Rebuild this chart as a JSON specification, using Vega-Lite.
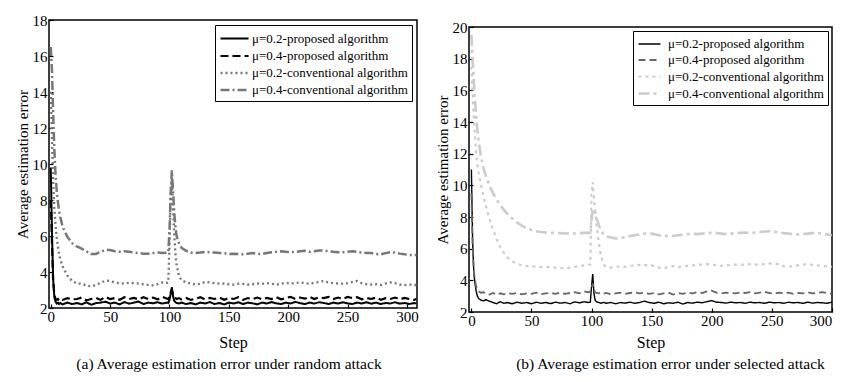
{
  "$schema": "https://vega.github.io/schema/vega-lite/v6.json",
  "background": "white",
  "padding": {"left": 14, "top": 12, "right": 0, "bottom": 0},
  "spacing": 15,
  "resolve": {"scale": {"color": "independent", "strokeDash": "independent", "strokeWidth": "independent"}, "legend": {"color": "independent", "strokeDash": "independent", "strokeWidth": "independent"}},
  "config": {
    "font": "Liberation Serif",
    "view": {"stroke": "black", "strokeWidth": 1.5},
    "axis": {"domain": false, "grid": false, "ticks": true, "tickSize": -4, "tickColor": "black", "tickWidth": 1.2, "labelFontSize": 15, "labelColor": "black", "labelFont": "Liberation Serif", "titleFont": "Liberation Serif", "titleFontWeight": "normal", "titleColor": "black"},
    "axisX": {"labelPadding": 5, "titleFontSize": 16, "titlePadding": 10},
    "axisY": {"labelPadding": 6, "titleFontSize": 15, "titlePadding": 2},
    "legend": {"labelLimit": 400},
    "title": {"font": "Liberation Serif", "fontSize": 15.5, "fontWeight": "normal", "color": "black", "orient": "bottom", "offset": 7}
  },
  "datasets": {
    "a": [
      {"x":0,"P2":9.8,"P4":8.0,"C2":14.0,"C4":16.5},
      {"x":1,"P2":6.2,"P4":5.6,"C2":11.5,"C4":15.2},
      {"x":2,"P2":3.6,"P4":3.5,"C2":9.0,"C4":12.8},
      {"x":3,"P2":2.6,"P4":2.75,"C2":7.6,"C4":10.8},
      {"x":4,"P2":2.35,"P4":2.5,"C2":6.6,"C4":9.4},
      {"x":5,"P2":2.25,"P4":2.45,"C2":5.9,"C4":8.5},
      {"x":6,"P2":2.3,"P4":2.5,"C2":5.4,"C4":7.9},
      {"x":7,"P2":2.22,"P4":2.42,"C2":5.0,"C4":7.4},
      {"x":8,"P2":2.28,"P4":2.5,"C2":4.7,"C4":7.05},
      {"x":10,"P2":2.2,"P4":2.45,"C2":4.3,"C4":6.5},
      {"x":14,"P2":2.3,"P4":2.55,"C2":3.8,"C4":5.95},
      {"x":18,"P2":2.22,"P4":2.48,"C2":3.5,"C4":5.6},
      {"x":22,"P2":2.28,"P4":2.5,"C2":3.35,"C4":5.42},
      {"x":26,"P2":2.2,"P4":2.58,"C2":3.35,"C4":5.3},
      {"x":30,"P2":2.32,"P4":2.42,"C2":3.25,"C4":5.15},
      {"x":34,"P2":2.18,"P4":2.5,"C2":3.2,"C4":5.0},
      {"x":38,"P2":2.27,"P4":2.56,"C2":3.28,"C4":5.0},
      {"x":42,"P2":2.3,"P4":2.45,"C2":3.4,"C4":5.12},
      {"x":46,"P2":2.35,"P4":2.62,"C2":3.52,"C4":5.22},
      {"x":50,"P2":2.25,"P4":2.5,"C2":3.5,"C4":5.22},
      {"x":54,"P2":2.3,"P4":2.55,"C2":3.42,"C4":5.15},
      {"x":58,"P2":2.2,"P4":2.46,"C2":3.38,"C4":5.12},
      {"x":62,"P2":2.33,"P4":2.6,"C2":3.36,"C4":5.15},
      {"x":66,"P2":2.24,"P4":2.5,"C2":3.4,"C4":5.12},
      {"x":70,"P2":2.3,"P4":2.56,"C2":3.38,"C4":5.08},
      {"x":74,"P2":2.36,"P4":2.48,"C2":3.36,"C4":5.05},
      {"x":78,"P2":2.22,"P4":2.6,"C2":3.32,"C4":5.02},
      {"x":82,"P2":2.3,"P4":2.5,"C2":3.28,"C4":5.02},
      {"x":86,"P2":2.26,"P4":2.58,"C2":3.26,"C4":5.05},
      {"x":90,"P2":2.32,"P4":2.48,"C2":3.32,"C4":5.08},
      {"x":94,"P2":2.25,"P4":2.62,"C2":3.42,"C4":5.05},
      {"x":98,"P2":2.3,"P4":2.52,"C2":3.4,"C4":5.08},
      {"x":99,"P2":2.28,"P4":2.5,"C2":3.42,"C4":5.1},
      {"x":100,"P2":2.45,"P4":2.6,"C2":5.5,"C4":6.3},
      {"x":101,"P2":2.8,"P4":2.85,"C2":8.2,"C4":8.4},
      {"x":102,"P2":3.15,"P4":3.0,"C2":9.3,"C4":9.65},
      {"x":103,"P2":2.65,"P4":2.75,"C2":7.6,"C4":8.5},
      {"x":104,"P2":2.4,"P4":2.6,"C2":6.1,"C4":7.3},
      {"x":105,"P2":2.32,"P4":2.55,"C2":5.0,"C4":6.5},
      {"x":106,"P2":2.28,"P4":2.5,"C2":4.4,"C4":6.0},
      {"x":108,"P2":2.25,"P4":2.55,"C2":3.8,"C4":5.6},
      {"x":110,"P2":2.3,"P4":2.48,"C2":3.55,"C4":5.35},
      {"x":114,"P2":2.22,"P4":2.56,"C2":3.42,"C4":5.18},
      {"x":118,"P2":2.28,"P4":2.45,"C2":3.36,"C4":5.08},
      {"x":122,"P2":2.2,"P4":2.52,"C2":3.3,"C4":5.05},
      {"x":126,"P2":2.3,"P4":2.6,"C2":3.35,"C4":5.08},
      {"x":130,"P2":2.25,"P4":2.48,"C2":3.45,"C4":5.12},
      {"x":134,"P2":2.33,"P4":2.56,"C2":3.42,"C4":5.1},
      {"x":138,"P2":2.22,"P4":2.5,"C2":3.38,"C4":5.08},
      {"x":142,"P2":2.28,"P4":2.58,"C2":3.35,"C4":5.05},
      {"x":146,"P2":2.2,"P4":2.46,"C2":3.36,"C4":5.05},
      {"x":150,"P2":2.3,"P4":2.55,"C2":3.32,"C4":5.0},
      {"x":154,"P2":2.25,"P4":2.5,"C2":3.3,"C4":5.02},
      {"x":158,"P2":2.32,"P4":2.6,"C2":3.35,"C4":5.0},
      {"x":162,"P2":2.22,"P4":2.45,"C2":3.34,"C4":4.98},
      {"x":166,"P2":2.3,"P4":2.55,"C2":3.3,"C4":5.02},
      {"x":170,"P2":2.26,"P4":2.5,"C2":3.32,"C4":5.05},
      {"x":174,"P2":2.2,"P4":2.58,"C2":3.36,"C4":5.0},
      {"x":178,"P2":2.3,"P4":2.48,"C2":3.34,"C4":5.0},
      {"x":182,"P2":2.25,"P4":2.56,"C2":3.38,"C4":5.05},
      {"x":186,"P2":2.33,"P4":2.5,"C2":3.35,"C4":5.1},
      {"x":190,"P2":2.26,"P4":2.6,"C2":3.3,"C4":5.12},
      {"x":194,"P2":2.22,"P4":2.48,"C2":3.35,"C4":5.15},
      {"x":198,"P2":2.3,"P4":2.55,"C2":3.4,"C4":5.12},
      {"x":202,"P2":2.25,"P4":2.62,"C2":3.36,"C4":5.1},
      {"x":206,"P2":2.34,"P4":2.5,"C2":3.38,"C4":5.12},
      {"x":210,"P2":2.27,"P4":2.58,"C2":3.42,"C4":5.15},
      {"x":214,"P2":2.22,"P4":2.52,"C2":3.38,"C4":5.18},
      {"x":218,"P2":2.3,"P4":2.62,"C2":3.35,"C4":5.12},
      {"x":222,"P2":2.25,"P4":2.5,"C2":3.4,"C4":5.15},
      {"x":226,"P2":2.32,"P4":2.6,"C2":3.45,"C4":5.2},
      {"x":230,"P2":2.28,"P4":2.55,"C2":3.5,"C4":5.2},
      {"x":234,"P2":2.22,"P4":2.62,"C2":3.42,"C4":5.15},
      {"x":238,"P2":2.3,"P4":2.5,"C2":3.38,"C4":5.12},
      {"x":242,"P2":2.25,"P4":2.58,"C2":3.36,"C4":5.1},
      {"x":246,"P2":2.32,"P4":2.5,"C2":3.35,"C4":5.1},
      {"x":250,"P2":2.26,"P4":2.62,"C2":3.38,"C4":5.12},
      {"x":254,"P2":2.22,"P4":2.55,"C2":3.45,"C4":5.15},
      {"x":258,"P2":2.3,"P4":2.6,"C2":3.5,"C4":5.12},
      {"x":262,"P2":2.25,"P4":2.48,"C2":3.38,"C4":5.08},
      {"x":266,"P2":2.32,"P4":2.56,"C2":3.32,"C4":5.05},
      {"x":270,"P2":2.24,"P4":2.5,"C2":3.3,"C4":5.05},
      {"x":274,"P2":2.3,"P4":2.58,"C2":3.32,"C4":5.0},
      {"x":278,"P2":2.22,"P4":2.46,"C2":3.28,"C4":4.98},
      {"x":282,"P2":2.28,"P4":2.55,"C2":3.36,"C4":5.05},
      {"x":286,"P2":2.25,"P4":2.5,"C2":3.42,"C4":5.1},
      {"x":290,"P2":2.32,"P4":2.58,"C2":3.38,"C4":5.08},
      {"x":294,"P2":2.24,"P4":2.48,"C2":3.3,"C4":5.02},
      {"x":298,"P2":2.28,"P4":2.56,"C2":3.28,"C4":4.98},
      {"x":302,"P2":2.22,"P4":2.5,"C2":3.3,"C4":4.95},
      {"x":306,"P2":2.28,"P4":2.45,"C2":3.28,"C4":4.95},
      {"x":308,"P2":2.25,"P4":2.5,"C2":3.28,"C4":4.95}
    ],
    "b": [
      {"x":0,"P2":11.0,"P4":9.5,"C2":17.5,"C4":19.5},
      {"x":1,"P2":6.5,"P4":6.2,"C2":15.8,"C4":18.0},
      {"x":2,"P2":4.5,"P4":4.6,"C2":14.2,"C4":16.6},
      {"x":3,"P2":3.8,"P4":4.0,"C2":13.0,"C4":15.4},
      {"x":4,"P2":3.3,"P4":3.6,"C2":12.0,"C4":14.3},
      {"x":5,"P2":3.0,"P4":3.4,"C2":11.3,"C4":13.5},
      {"x":6,"P2":2.85,"P4":3.3,"C2":10.8,"C4":12.8},
      {"x":8,"P2":2.75,"P4":3.22,"C2":10.0,"C4":11.8},
      {"x":10,"P2":2.7,"P4":3.25,"C2":9.3,"C4":11.1},
      {"x":12,"P2":2.78,"P4":3.15,"C2":8.7,"C4":10.6},
      {"x":15,"P2":2.68,"P4":3.1,"C2":7.9,"C4":10.0},
      {"x":18,"P2":2.6,"P4":3.2,"C2":7.2,"C4":9.5},
      {"x":21,"P2":2.52,"P4":3.08,"C2":6.6,"C4":9.1},
      {"x":24,"P2":2.65,"P4":3.18,"C2":6.1,"C4":8.75},
      {"x":27,"P2":2.55,"P4":3.12,"C2":5.75,"C4":8.45},
      {"x":30,"P2":2.6,"P4":3.2,"C2":5.45,"C4":8.2},
      {"x":34,"P2":2.52,"P4":3.15,"C2":5.2,"C4":7.9},
      {"x":38,"P2":2.62,"P4":3.2,"C2":5.05,"C4":7.65},
      {"x":42,"P2":2.55,"P4":3.12,"C2":4.95,"C4":7.45},
      {"x":46,"P2":2.6,"P4":3.18,"C2":4.9,"C4":7.3},
      {"x":50,"P2":2.52,"P4":3.15,"C2":4.88,"C4":7.18},
      {"x":54,"P2":2.62,"P4":3.22,"C2":4.86,"C4":7.1},
      {"x":58,"P2":2.55,"P4":3.12,"C2":4.84,"C4":7.05},
      {"x":62,"P2":2.6,"P4":3.18,"C2":4.85,"C4":7.02},
      {"x":66,"P2":2.53,"P4":3.2,"C2":4.82,"C4":7.0},
      {"x":70,"P2":2.62,"P4":3.15,"C2":4.8,"C4":7.0},
      {"x":74,"P2":2.56,"P4":3.22,"C2":4.78,"C4":6.98},
      {"x":78,"P2":2.6,"P4":3.15,"C2":4.75,"C4":6.96},
      {"x":82,"P2":2.52,"P4":3.2,"C2":4.8,"C4":6.98},
      {"x":86,"P2":2.64,"P4":3.25,"C2":4.85,"C4":6.96},
      {"x":90,"P2":2.58,"P4":3.18,"C2":4.9,"C4":6.98},
      {"x":94,"P2":2.65,"P4":3.3,"C2":4.95,"C4":7.0},
      {"x":97,"P2":2.6,"P4":3.25,"C2":5.0,"C4":7.0},
      {"x":99,"P2":2.62,"P4":3.28,"C2":5.0,"C4":7.0},
      {"x":100,"P2":3.6,"P4":3.5,"C2":9.5,"C4":7.8},
      {"x":101,"P2":4.4,"P4":3.8,"C2":10.2,"C4":8.4},
      {"x":102,"P2":3.2,"P4":3.4,"C2":9.2,"C4":8.5},
      {"x":103,"P2":2.75,"P4":3.25,"C2":8.3,"C4":8.3},
      {"x":104,"P2":2.65,"P4":3.2,"C2":7.6,"C4":8.0},
      {"x":106,"P2":2.6,"P4":3.18,"C2":6.4,"C4":7.5},
      {"x":108,"P2":2.55,"P4":3.22,"C2":5.5,"C4":7.1},
      {"x":110,"P2":2.62,"P4":3.15,"C2":5.0,"C4":6.9},
      {"x":112,"P2":2.55,"P4":3.2,"C2":4.85,"C4":6.78},
      {"x":116,"P2":2.6,"P4":3.12,"C2":4.8,"C4":6.7},
      {"x":120,"P2":2.52,"P4":3.18,"C2":4.85,"C4":6.65},
      {"x":124,"P2":2.6,"P4":3.22,"C2":4.88,"C4":6.68},
      {"x":128,"P2":2.56,"P4":3.15,"C2":4.85,"C4":6.72},
      {"x":132,"P2":2.62,"P4":3.2,"C2":4.9,"C4":6.8},
      {"x":136,"P2":2.55,"P4":3.25,"C2":4.95,"C4":6.85},
      {"x":140,"P2":2.6,"P4":3.18,"C2":4.98,"C4":6.9},
      {"x":144,"P2":2.68,"P4":3.22,"C2":4.95,"C4":6.95},
      {"x":148,"P2":2.6,"P4":3.15,"C2":5.0,"C4":6.98},
      {"x":152,"P2":2.55,"P4":3.2,"C2":4.9,"C4":6.92},
      {"x":156,"P2":2.62,"P4":3.12,"C2":4.8,"C4":6.85},
      {"x":160,"P2":2.52,"P4":3.18,"C2":4.75,"C4":6.8},
      {"x":164,"P2":2.58,"P4":3.22,"C2":4.85,"C4":6.82},
      {"x":168,"P2":2.55,"P4":3.1,"C2":4.9,"C4":6.8},
      {"x":172,"P2":2.62,"P4":3.2,"C2":4.82,"C4":6.85},
      {"x":176,"P2":2.5,"P4":3.15,"C2":4.88,"C4":6.88},
      {"x":180,"P2":2.6,"P4":3.22,"C2":4.92,"C4":6.92},
      {"x":184,"P2":2.56,"P4":3.18,"C2":4.95,"C4":6.95},
      {"x":188,"P2":2.62,"P4":3.25,"C2":4.98,"C4":6.92},
      {"x":192,"P2":2.58,"P4":3.2,"C2":5.0,"C4":6.95},
      {"x":196,"P2":2.65,"P4":3.3,"C2":5.02,"C4":6.98},
      {"x":200,"P2":2.72,"P4":3.35,"C2":5.0,"C4":7.0},
      {"x":204,"P2":2.62,"P4":3.22,"C2":4.95,"C4":6.98},
      {"x":208,"P2":2.6,"P4":3.18,"C2":4.92,"C4":6.95},
      {"x":212,"P2":2.56,"P4":3.22,"C2":4.95,"C4":6.92},
      {"x":216,"P2":2.62,"P4":3.2,"C2":4.98,"C4":6.95},
      {"x":220,"P2":2.58,"P4":3.18,"C2":5.0,"C4":6.98},
      {"x":224,"P2":2.6,"P4":3.24,"C2":4.98,"C4":7.0},
      {"x":228,"P2":2.55,"P4":3.2,"C2":5.0,"C4":7.02},
      {"x":232,"P2":2.62,"P4":3.26,"C2":5.02,"C4":7.0},
      {"x":236,"P2":2.58,"P4":3.18,"C2":5.0,"C4":7.02},
      {"x":240,"P2":2.6,"P4":3.22,"C2":4.98,"C4":7.05},
      {"x":244,"P2":2.55,"P4":3.28,"C2":5.02,"C4":7.08},
      {"x":248,"P2":2.62,"P4":3.2,"C2":5.05,"C4":7.1},
      {"x":252,"P2":2.58,"P4":3.15,"C2":5.08,"C4":7.08},
      {"x":256,"P2":2.6,"P4":3.22,"C2":5.0,"C4":7.02},
      {"x":260,"P2":2.55,"P4":3.18,"C2":4.9,"C4":6.98},
      {"x":264,"P2":2.62,"P4":3.22,"C2":4.85,"C4":6.95},
      {"x":268,"P2":2.58,"P4":3.15,"C2":4.9,"C4":6.92},
      {"x":272,"P2":2.6,"P4":3.2,"C2":4.95,"C4":6.9},
      {"x":276,"P2":2.55,"P4":3.18,"C2":5.0,"C4":6.92},
      {"x":280,"P2":2.62,"P4":3.24,"C2":5.02,"C4":6.95},
      {"x":284,"P2":2.56,"P4":3.18,"C2":4.98,"C4":6.98},
      {"x":288,"P2":2.6,"P4":3.2,"C2":4.95,"C4":7.0},
      {"x":292,"P2":2.58,"P4":3.26,"C2":4.9,"C4":6.95},
      {"x":296,"P2":2.55,"P4":3.2,"C2":4.88,"C4":6.9},
      {"x":300,"P2":2.62,"P4":3.15,"C2":4.85,"C4":6.85}
    ]
  },
  "hconcat": [
    {
      "width": 368,
      "height": 288,
      "data": {"name": "a"},
      "transform": [{"fold": ["P2", "P4", "C2", "C4"], "as": ["s", "v"]}],
      "mark": {"type": "line", "clip": true},
      "encoding": {
        "x": {"field": "x", "type": "quantitative", "scale": {"domain": [-1.5, 308.5], "nice": false, "zero": false}, "axis": {"title": "Step", "values": [0, 50, 100, 150, 200, 250, 300]}},
        "y": {"field": "v", "type": "quantitative", "scale": {"domain": [2, 18], "nice": false, "zero": false}, "axis": {"title": "Average estimation error", "values": [2, 4, 6, 8, 10, 12, 14, 16, 18]}},
        "color": {"field": "s", "type": "nominal", "scale": {"domain": ["P2", "P4", "C2", "C4"], "range": ["#000000", "#000000", "#777777", "#777777"]},
          "legend": {"title": null, "orient": "top-right", "offset": 5, "strokeColor": "black", "fillColor": "white", "padding": 4, "symbolType": "M-1,0H2.3", "symbolSize": 289, "labelFontSize": 13, "labelFont": "Liberation Serif", "labelColor": "black", "labelLimit": 400, "labelOffset": 13, "rowPadding": 0, "labelExpr": "{'P2':'μ=0.2-proposed algorithm','P4':'μ=0.4-proposed algorithm','C2':'μ=0.2-conventional algorithm','C4':'μ=0.4-conventional algorithm'}[datum.label]"}},
        "strokeDash": {"field": "s", "type": "nominal", "scale": {"domain": ["P2", "P4", "C2", "C4"], "range": [[1, 0], [8, 4], [2, 3], [9, 3, 2, 3]]}},
        "strokeWidth": {"field": "s", "type": "nominal", "scale": {"domain": ["P2", "P4", "C2", "C4"], "range": [2, 2.5, 2.5, 2.5]}}
      },
      "title": {"text": "(a) Average estimation error under random attack", "dx": -4}
    },
    {
      "spacing": 6,
      "bounds": "flush",
      "resolve": {"scale": {"color": "independent", "strokeDash": "independent", "strokeWidth": "independent"}, "legend": {"color": "independent", "strokeDash": "independent", "strokeWidth": "independent"}},
      "vconcat": [
        {
          "width": 1,
          "height": 1,
          "view": {"stroke": null},
          "data": {"values": [{"t": ""}]},
          "mark": {"type": "text", "fontSize": 1},
          "encoding": {"text": {"field": "t", "type": "nominal"}}
        },
        {
          "width": 363,
          "height": 285,
          "data": {"name": "b"},
          "transform": [{"fold": ["P2", "P4", "C2", "C4"], "as": ["s", "v"]}],
          "mark": {"type": "line", "clip": true},
          "encoding": {
            "x": {"field": "x", "type": "quantitative", "scale": {"domain": [-2, 300.2], "nice": false, "zero": false}, "axis": {"title": "Step", "titlePadding": 6, "values": [0, 50, 100, 150, 200, 250, 300], "labelFlush": 1}},
            "y": {"field": "v", "type": "quantitative", "scale": {"domain": [2, 20], "nice": false, "zero": false}, "axis": {"title": "Average estimation error", "values": [2, 4, 6, 8, 10, 12, 14, 16, 18, 20]}},
            "color": {"field": "s", "type": "nominal", "scale": {"domain": ["P2", "P4", "C2", "C4"], "range": ["#000000", "#666666", "#cccccc", "#cccccc"]},
              "legend": {"title": null, "orient": "top-right", "offset": 4, "strokeColor": "black", "fillColor": "white", "padding": 4, "symbolType": "M-1,0H1.75", "symbolSize": 256, "labelFontSize": 13, "labelFont": "Liberation Serif", "labelColor": "black", "labelLimit": 400, "labelOffset": 12, "rowPadding": 0, "labelExpr": "{'P2':'μ=0.2-proposed algorithm','P4':'μ=0.4-proposed algorithm','C2':'μ=0.2-conventional algorithm','C4':'μ=0.4-conventional algorithm'}[datum.label]"}},
            "strokeDash": {"field": "s", "type": "nominal", "scale": {"domain": ["P2", "P4", "C2", "C4"], "range": [[1, 0], [7, 4], [3, 4], [11, 4, 3, 4]]}},
            "strokeWidth": {"field": "s", "type": "nominal", "scale": {"domain": ["P2", "P4", "C2", "C4"], "range": [1.4, 2.6, 3.5, 3.5]}}
          },
          "title": {"text": "(b) Average estimation error under selected attack", "dx": 20}
        }
      ]
    }
  ]
}
